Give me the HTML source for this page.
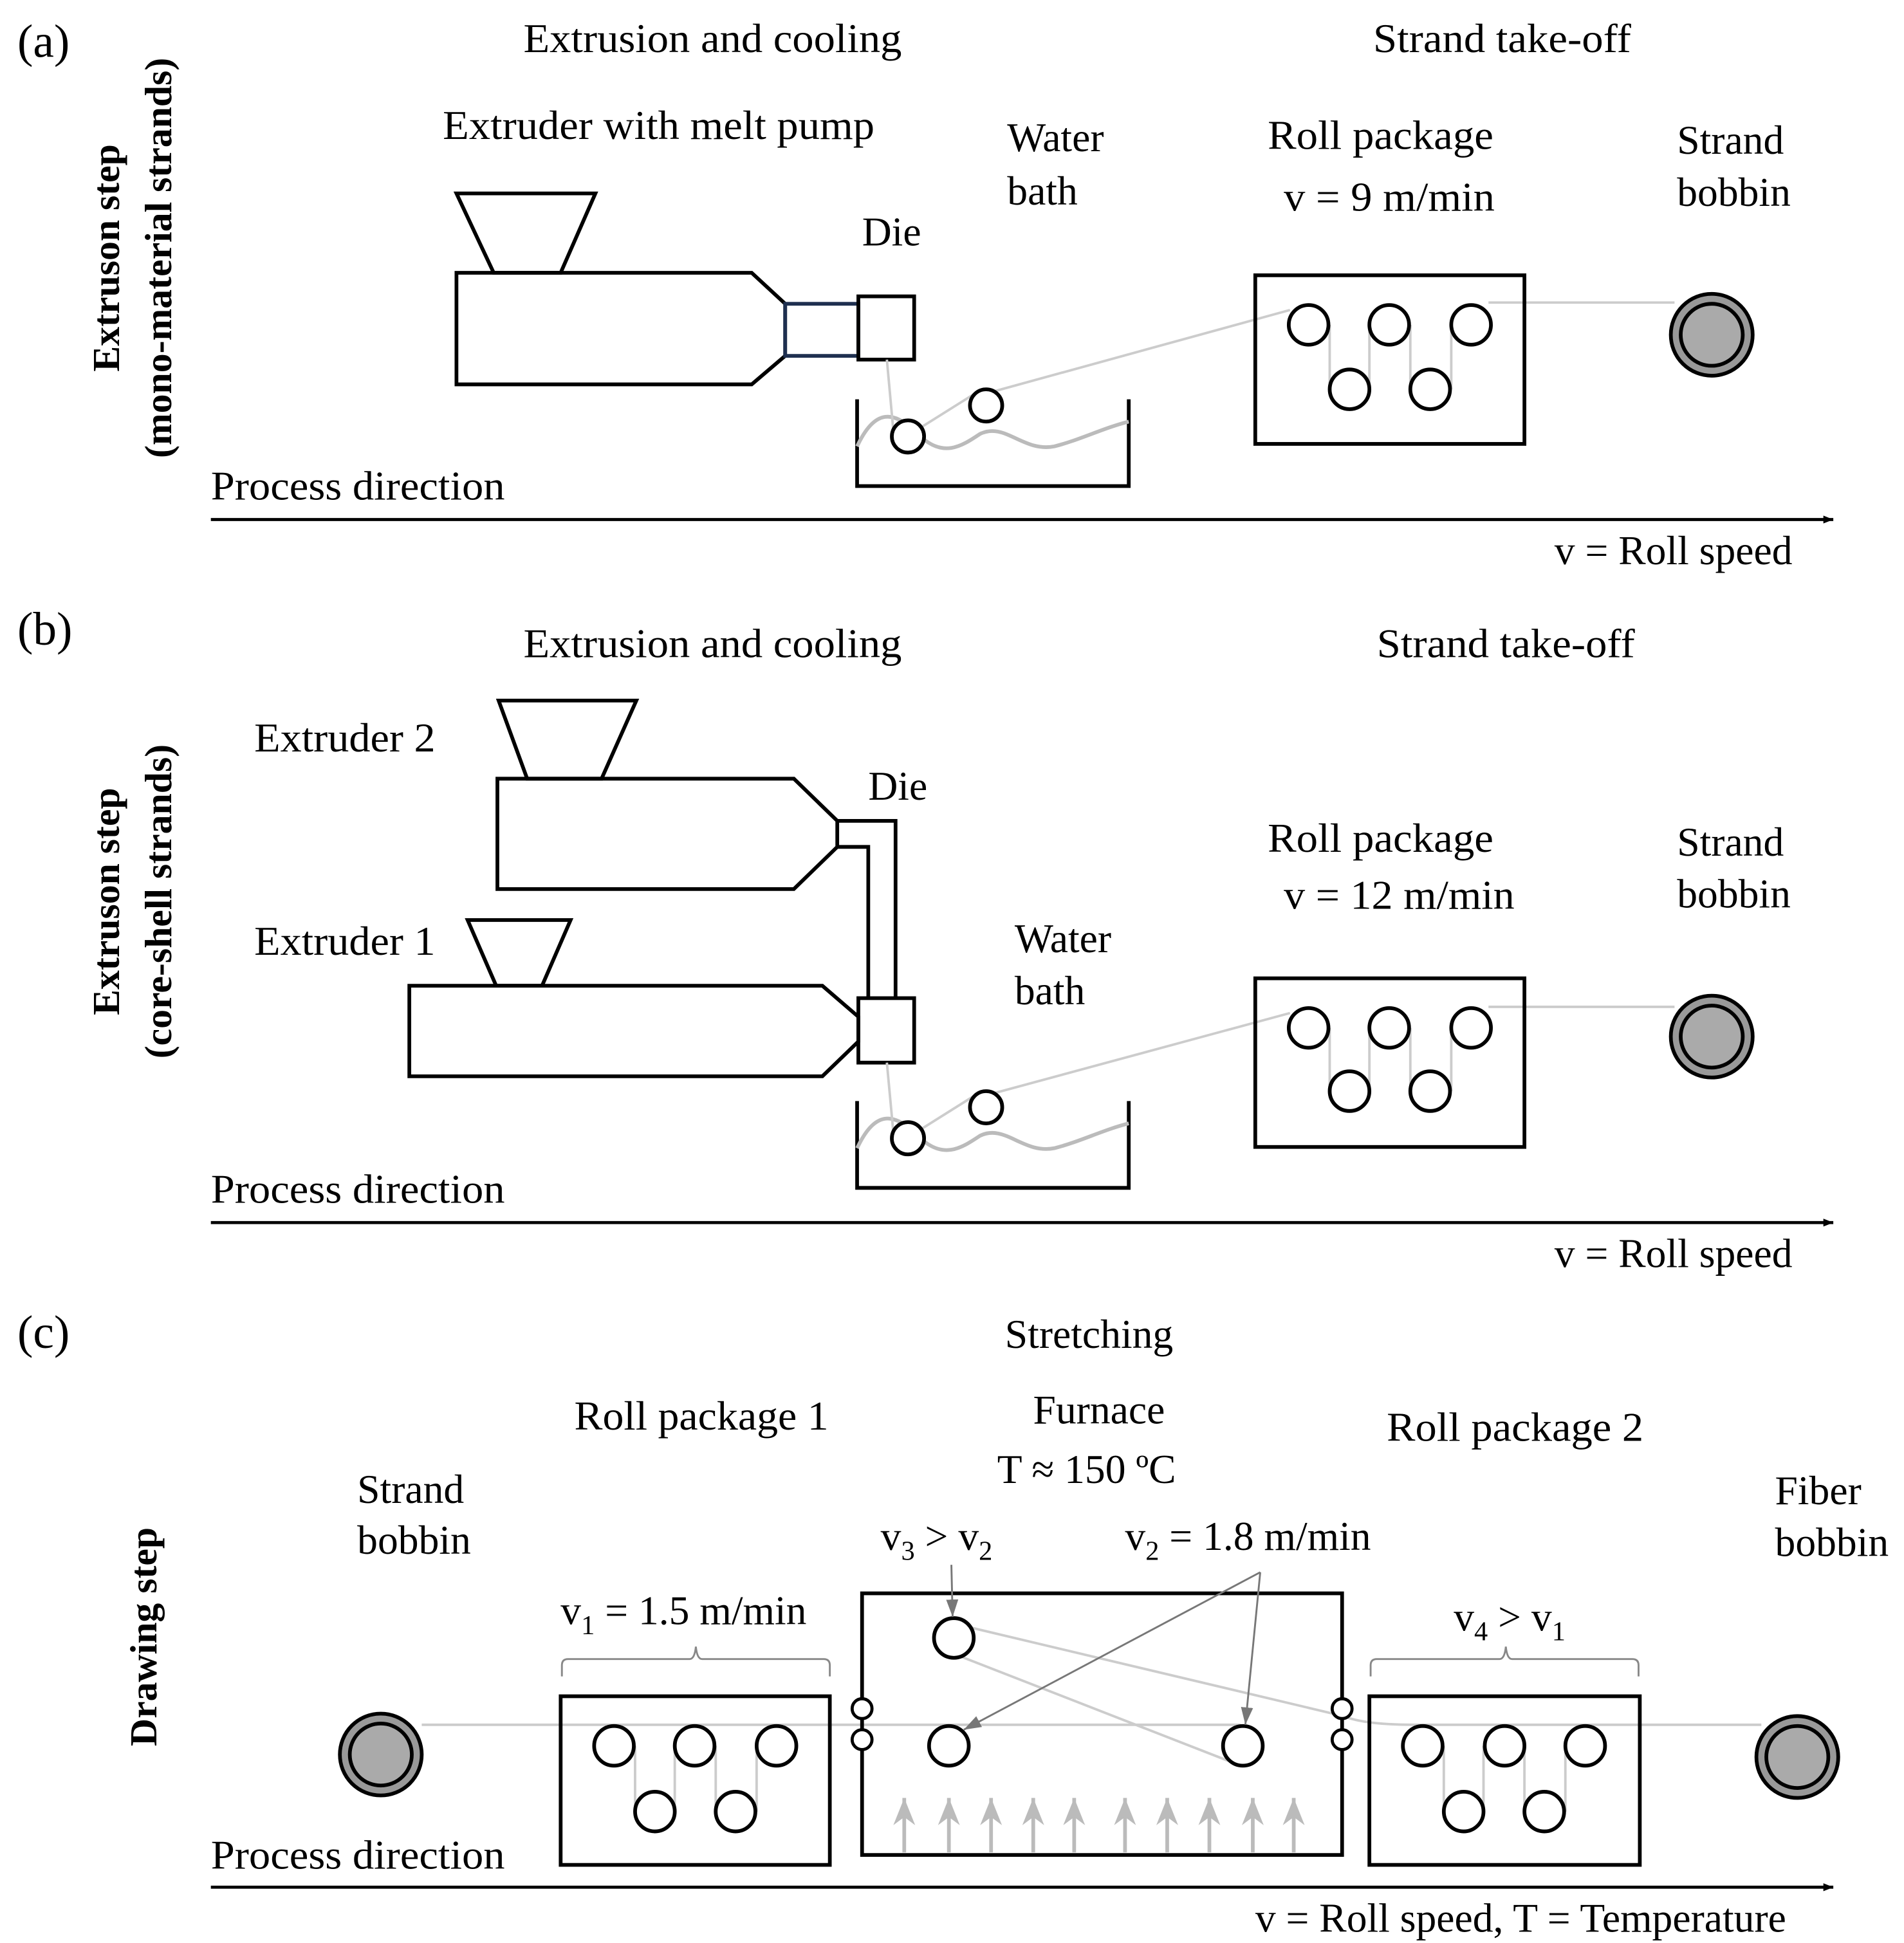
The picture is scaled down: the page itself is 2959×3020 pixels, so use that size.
<!DOCTYPE html>
<html><head><meta charset="utf-8"><style>
html,body{margin:0;padding:0;background:#fff;}
svg{display:block;}
text{font-family:"Liberation Serif",serif;font-size:33px;fill:#000;}
.b{font-weight:bold;font-size:31px;}
.s{font-size:22px;}
</style></head><body>
<svg width="2959" height="3020" viewBox="0 0 1535 1567" preserveAspectRatio="none" xmlns="http://www.w3.org/2000/svg">
<defs>
<marker id="ah" viewBox="0 0 10 10" refX="10" refY="5" markerWidth="8" markerHeight="8" markerUnits="userSpaceOnUse" orient="auto"><path d="M0,1 L10,5 L0,9 z" fill="#000"/></marker>
<marker id="gh" viewBox="0 0 10 10" refX="10" refY="5" markerWidth="14" markerHeight="14" markerUnits="userSpaceOnUse" orient="auto"><path d="M0,1.5 L10,5 L0,8.5 z" fill="#777"/></marker>
<marker id="hh" viewBox="0 0 10 10" refX="10" refY="5" markerWidth="22" markerHeight="22" markerUnits="userSpaceOnUse" orient="auto"><path d="M0,1 L10,5 L0,9 L3,5 z" fill="#bbb"/></marker>
</defs>
<g fill="none" stroke="#000" stroke-width="3">

<!-- ===== (a) ===== -->
<polygon points="368,156 480,156 452,220 398,220"/>
<polygon points="368,220 606,220 633,245 633,287 606,310 368,310"/>
<rect x="633" y="245" width="59" height="42" stroke="#1f3050"/>
<rect x="692" y="239" width="45" height="51"/>
<polyline points="691,322 691,392 910,392 910,322"/>
<path d="M691,360 C705,330 720,330 740,350 C760,370 775,360 790,350 C810,340 825,365 850,360 C870,355 890,345 910,340" stroke="#bbb" stroke-width="3"/>
<g stroke="#ccc" stroke-width="2">
<line x1="715" y1="290" x2="720" y2="345"/>
<line x1="742" y1="345" x2="785" y2="318"/>
<line x1="800" y1="316" x2="1040" y2="250"/>
<line x1="1200" y1="244" x2="1350" y2="244"/>
<line x1="1072" y1="262" x2="1072" y2="314"/><line x1="1104" y1="262" x2="1104" y2="314"/>
<line x1="1137" y1="262" x2="1137" y2="314"/><line x1="1170" y1="262" x2="1170" y2="314"/>
</g>
<circle cx="732" cy="352" r="13" fill="#fff"/><circle cx="795" cy="327" r="13" fill="#fff"/>
<rect x="1012" y="222" width="217" height="136"/>
<g fill="#fff"><circle cx="1055" cy="262" r="16"/><circle cx="1120" cy="262" r="16"/><circle cx="1186" cy="262" r="16"/><circle cx="1088" cy="314" r="16"/><circle cx="1153" cy="314" r="16"/></g>
<circle cx="1380" cy="270" r="33" fill="#999"/><circle cx="1380" cy="270" r="25" fill="#aaa"/>
<line x1="170" y1="419" x2="1478" y2="419" stroke-width="2.5" marker-end="url(#ah)"/>

<!-- ===== (b) ===== -->
<polygon points="402,565 513,565 485,628 425,628"/>
<polygon points="401,628 640,628 675,662 675,683 640,717 401,717"/>
<polyline points="675,662 722,662 722,805"/>
<polyline points="675,683 700,683 700,805"/>
<polygon points="377,742 460,742 437,795 400,795"/>
<polygon points="330,795 663,795 692,820 692,840 663,868 330,868"/>
<rect x="692" y="805" width="45" height="52"/>
<polyline points="691,888 691,958 910,958 910,888"/>
<path d="M691,926 C705,896 720,896 740,916 C760,936 775,926 790,916 C810,906 825,931 850,926 C870,921 890,911 910,906" stroke="#bbb" stroke-width="3"/>
<g stroke="#ccc" stroke-width="2">
<line x1="715" y1="857" x2="720" y2="911"/>
<line x1="742" y1="911" x2="785" y2="884"/>
<line x1="800" y1="882" x2="1040" y2="817"/>
<line x1="1200" y1="812" x2="1350" y2="812"/>
<line x1="1072" y1="829" x2="1072" y2="880"/><line x1="1104" y1="829" x2="1104" y2="880"/>
<line x1="1137" y1="829" x2="1137" y2="880"/><line x1="1170" y1="829" x2="1170" y2="880"/>
</g>
<circle cx="732" cy="918" r="13" fill="#fff"/><circle cx="795" cy="893" r="13" fill="#fff"/>
<rect x="1012" y="789" width="217" height="136"/>
<g fill="#fff"><circle cx="1055" cy="829" r="16"/><circle cx="1120" cy="829" r="16"/><circle cx="1186" cy="829" r="16"/><circle cx="1088" cy="880" r="16"/><circle cx="1153" cy="880" r="16"/></g>
<circle cx="1380" cy="836" r="33" fill="#999"/><circle cx="1380" cy="836" r="25" fill="#aaa"/>
<line x1="170" y1="986" x2="1478" y2="986" stroke-width="2.5" marker-end="url(#ah)"/>

<!-- ===== (c) ===== -->
<g stroke="#ccc" stroke-width="2">
<line x1="340" y1="1391" x2="1000" y2="1391"/>
<line x1="780" y1="1312" x2="1083" y2="1384"/>
<path d="M1083,1384 Q1100,1391 1140,1391 L1420,1391"/>
<line x1="772" y1="1335" x2="990" y2="1420"/>
<line x1="512" y1="1408" x2="512" y2="1461"/><line x1="544" y1="1408" x2="544" y2="1461"/>
<line x1="577" y1="1408" x2="577" y2="1461"/><line x1="610" y1="1408" x2="610" y2="1461"/>
<line x1="1164" y1="1408" x2="1164" y2="1461"/><line x1="1196" y1="1408" x2="1196" y2="1461"/>
<line x1="1229" y1="1408" x2="1229" y2="1461"/><line x1="1262" y1="1408" x2="1262" y2="1461"/>
</g>
<circle cx="307" cy="1415" r="33" fill="#999"/><circle cx="307" cy="1415" r="25" fill="#aaa"/>
<circle cx="1449" cy="1417" r="33" fill="#999"/><circle cx="1449" cy="1417" r="25" fill="#aaa"/>
<rect x="452" y="1368" width="217" height="136"/>
<g fill="#fff"><circle cx="495" cy="1408" r="16"/><circle cx="560" cy="1408" r="16"/><circle cx="626" cy="1408" r="16"/><circle cx="528" cy="1461" r="16"/><circle cx="593" cy="1461" r="16"/></g>
<rect x="1104" y="1368" width="218" height="136"/>
<g fill="#fff"><circle cx="1147" cy="1408" r="16"/><circle cx="1213" cy="1408" r="16"/><circle cx="1278" cy="1408" r="16"/><circle cx="1180" cy="1461" r="16"/><circle cx="1245" cy="1461" r="16"/></g>
<rect x="695" y="1285" width="387" height="211"/>
<g fill="#fff" stroke-width="2.5"><circle cx="695" cy="1378" r="8"/><circle cx="695" cy="1403" r="8"/><circle cx="1082" cy="1378" r="8"/><circle cx="1082" cy="1403" r="8"/></g>
<g fill="#fff"><circle cx="769" cy="1321" r="16"/><circle cx="765" cy="1408" r="16"/><circle cx="1002" cy="1408" r="16"/></g>
<g stroke="#bbb" stroke-width="3">
<line x1="729" y1="1494" x2="729" y2="1450" marker-end="url(#hh)"/>
<line x1="765" y1="1494" x2="765" y2="1450" marker-end="url(#hh)"/>
<line x1="799" y1="1494" x2="799" y2="1450" marker-end="url(#hh)"/>
<line x1="833" y1="1494" x2="833" y2="1450" marker-end="url(#hh)"/>
<line x1="866" y1="1494" x2="866" y2="1450" marker-end="url(#hh)"/>
<line x1="907" y1="1494" x2="907" y2="1450" marker-end="url(#hh)"/>
<line x1="941" y1="1494" x2="941" y2="1450" marker-end="url(#hh)"/>
<line x1="975" y1="1494" x2="975" y2="1450" marker-end="url(#hh)"/>
<line x1="1010" y1="1494" x2="1010" y2="1450" marker-end="url(#hh)"/>
<line x1="1043" y1="1494" x2="1043" y2="1450" marker-end="url(#hh)"/>
</g>
<g stroke="#777" stroke-width="1.5">
<line x1="767" y1="1262" x2="768" y2="1304" marker-end="url(#gh)"/>
<line x1="1016" y1="1268" x2="777" y2="1395" marker-end="url(#gh)"/>
<line x1="1016" y1="1268" x2="1004" y2="1391" marker-end="url(#gh)"/>
</g>
<g stroke="#888" stroke-width="1.5">
<path d="M453,1352 L453,1343 Q453,1338 458,1338 L556,1338 Q560,1338 561,1328 Q562,1338 566,1338 L664,1338 Q669,1338 669,1343 L669,1352"/>
<path d="M1105,1352 L1105,1343 Q1105,1338 1110,1338 L1209,1338 Q1213,1338 1214,1328 Q1215,1338 1219,1338 L1316,1338 Q1321,1338 1321,1343 L1321,1352"/>
</g>
<line x1="170" y1="1522" x2="1478" y2="1522" stroke-width="2.5" marker-end="url(#ah)"/>
</g>

<!-- text (a) -->
<text x="14" y="46" style="font-size:38px">(a)</text>
<text x="422" y="42" textLength="305" lengthAdjust="spacingAndGlyphs">Extrusion and cooling</text>
<text x="1107" y="42" textLength="208" lengthAdjust="spacingAndGlyphs">Strand take-off</text>
<text x="357" y="112" textLength="348" lengthAdjust="spacingAndGlyphs">Extruder with melt pump</text>
<text x="695" y="198">Die</text>
<text x="812" y="122">Water</text><text x="812" y="165">bath</text>
<text x="1022" y="120" textLength="182" lengthAdjust="spacingAndGlyphs">Roll package</text>
<text x="1035" y="170" textLength="170" lengthAdjust="spacingAndGlyphs">v = 9 m/min</text>
<text x="1352" y="124">Strand</text><text x="1352" y="166">bobbin</text>
<text x="170" y="403" textLength="237" lengthAdjust="spacingAndGlyphs">Process direction</text>
<text x="1445" y="455" text-anchor="end">v = Roll speed</text>
<text class="b" transform="translate(96,208) rotate(-90)" text-anchor="middle">Extruson step</text>
<text class="b" transform="translate(138,208) rotate(-90)" text-anchor="middle">(mono-material strands)</text>

<!-- text (b) -->
<text x="14" y="520" style="font-size:38px">(b)</text>
<text x="422" y="530" textLength="305" lengthAdjust="spacingAndGlyphs">Extrusion and cooling</text>
<text x="1110" y="530" textLength="208" lengthAdjust="spacingAndGlyphs">Strand take-off</text>
<text x="205" y="606" textLength="146" lengthAdjust="spacingAndGlyphs">Extruder 2</text>
<text x="205" y="770" textLength="146" lengthAdjust="spacingAndGlyphs">Extruder 1</text>
<text x="700" y="645">Die</text>
<text x="818" y="768">Water</text><text x="818" y="810">bath</text>
<text x="1022" y="687" textLength="182" lengthAdjust="spacingAndGlyphs">Roll package</text>
<text x="1035" y="733" textLength="186" lengthAdjust="spacingAndGlyphs">v = 12 m/min</text>
<text x="1352" y="690">Strand</text><text x="1352" y="732">bobbin</text>
<text x="170" y="970" textLength="237" lengthAdjust="spacingAndGlyphs">Process direction</text>
<text x="1445" y="1022" text-anchor="end">v = Roll speed</text>
<text class="b" transform="translate(96,727) rotate(-90)" text-anchor="middle">Extruson step</text>
<text class="b" transform="translate(138,727) rotate(-90)" text-anchor="middle">(core-shell strands)</text>

<!-- text (c) -->
<text x="14" y="1087" style="font-size:38px">(c)</text>
<text x="878" y="1087" text-anchor="middle">Stretching</text>
<text x="463" y="1153" textLength="205" lengthAdjust="spacingAndGlyphs">Roll package 1</text>
<text x="886" y="1148" text-anchor="middle">Furnace</text>
<text x="876" y="1196" text-anchor="middle">T ≈ 150 ºC</text>
<text x="1118" y="1162" textLength="207" lengthAdjust="spacingAndGlyphs">Roll package 2</text>
<text x="288" y="1212">Strand</text><text x="288" y="1253">bobbin</text>
<text x="1431" y="1213">Fiber</text><text x="1431" y="1255">bobbin</text>
<text x="710" y="1250">v<tspan class="s" dy="8">3</tspan><tspan dy="-8"> &gt; v</tspan><tspan class="s" dy="8">2</tspan></text>
<text x="907" y="1250">v<tspan class="s" dy="8">2</tspan><tspan dy="-8"> = 1.8 m/min</tspan></text>
<text x="452" y="1310">v<tspan class="s" dy="8">1</tspan><tspan dy="-8"> = 1.5 m/min</tspan></text>
<text x="1172" y="1315">v<tspan class="s" dy="8">4</tspan><tspan dy="-8"> &gt; v</tspan><tspan class="s" dy="8">1</tspan></text>
<text class="b" transform="translate(126,1320) rotate(-90)" text-anchor="middle">Drawing step</text>
<text x="170" y="1507" textLength="237" lengthAdjust="spacingAndGlyphs">Process direction</text>
<text x="1440" y="1558" text-anchor="end">v = Roll speed, T = Temperature</text>
</svg>
</body></html>
